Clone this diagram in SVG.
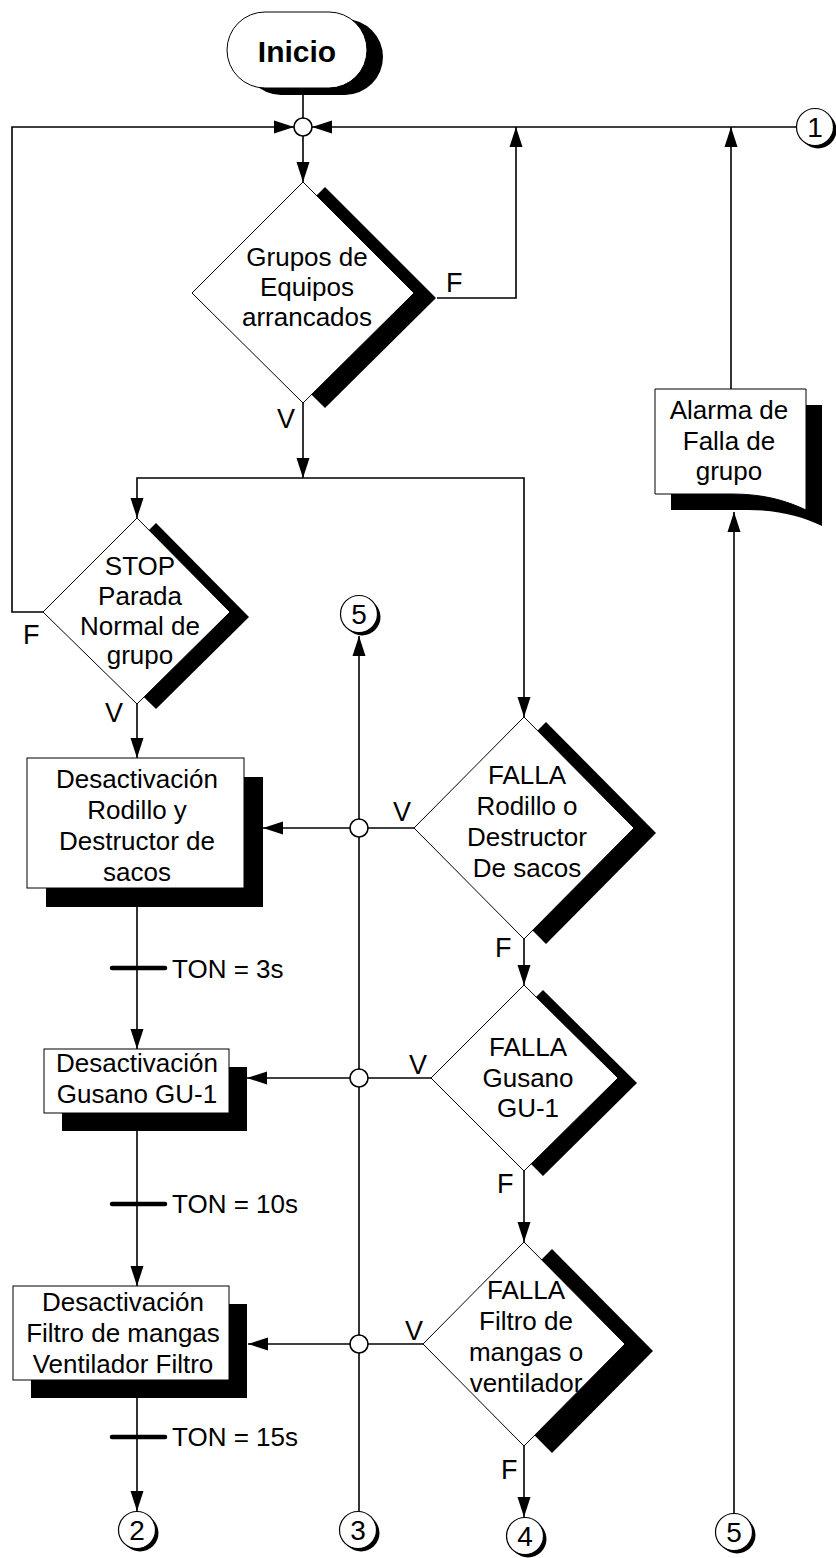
<svg xmlns="http://www.w3.org/2000/svg" width="836" height="1558" viewBox="0 0 836 1558">
  <style>
    .bg { fill: #ffffff; }
    .shape { fill: #ffffff; stroke: #000000; stroke-width: 1; }
    .shadow { fill: #000000; stroke: none; }
    .wire { fill: none; stroke: #000000; stroke-width: 1.6; }
    .timer { stroke: #000000; stroke-width: 4.5; stroke-linecap: round; }
    .junction { fill: #ffffff; stroke: #000000; stroke-width: 1.6; }
    .conn { fill: #ffffff; stroke: #000000; stroke-width: 1.2; }
    text { font-family: "Liberation Sans", Arial, sans-serif; font-size: 26px; fill: #000000; }
    .mid { text-anchor: middle; }
    .lbl { font-size: 27px; }
    .num { font-size: 28px; }
    .title { font-size: 30px; font-weight: bold; }
  </style>
  <defs>
    <marker id="arrow" markerUnits="userSpaceOnUse" markerWidth="20" markerHeight="14" refX="20" refY="7" orient="auto">
      <path d="M0,0.5 L20,7 L0,13.5 Z" fill="#000000"/>
    </marker>
  </defs>

  <rect class="bg" x="0" y="0" width="836" height="1558"/>

  <!-- connectors -->
  <g id="connectors">
    <path class="wire" d="M303,95 V118"/>
    <path class="wire" d="M303,136 V182" marker-end="url(#arrow)"/>
    <path class="wire" d="M43,612 H12 V127 H294" marker-end="url(#arrow)"/>
    <path class="wire" d="M796,127 H312" marker-end="url(#arrow)"/>
    <path class="wire" d="M437,298 H516 V127" marker-end="url(#arrow)"/>
    <path class="wire" d="M731,389 V127" marker-end="url(#arrow)"/>
    <path class="wire" d="M734,1513 V512" marker-end="url(#arrow)"/>
    <path class="wire" d="M303,403 V478" marker-end="url(#arrow)"/>
    <path class="wire" d="M303,478 H137 V518" marker-end="url(#arrow)"/>
    <path class="wire" d="M303,478 H524 V717" marker-end="url(#arrow)"/>
    <path class="wire" d="M137,704 V758" marker-end="url(#arrow)"/>
    <path class="wire" d="M137,907 V1049" marker-end="url(#arrow)"/>
    <path class="wire" d="M137,1131 V1286" marker-end="url(#arrow)"/>
    <path class="wire" d="M137,1398 V1511" marker-end="url(#arrow)"/>
    <path class="wire" d="M524,939 V985" marker-end="url(#arrow)"/>
    <path class="wire" d="M524,1171 V1242" marker-end="url(#arrow)"/>
    <path class="wire" d="M524,1446 V1517" marker-end="url(#arrow)"/>
    <path class="wire" d="M414,828 H263" marker-end="url(#arrow)"/>
    <path class="wire" d="M431,1078 H247" marker-end="url(#arrow)"/>
    <path class="wire" d="M423,1344 H248" marker-end="url(#arrow)"/>
    <path class="wire" d="M359,1511 V636" marker-end="url(#arrow)"/>

    <!-- crossing points -->
    <circle class="junction" cx="303" cy="127" r="9"/>
    <circle class="junction" cx="359" cy="828" r="9"/>
    <circle class="junction" cx="359" cy="1078" r="9"/>
    <circle class="junction" cx="359" cy="1344" r="9"/>

    <!-- timers -->
    <line class="timer" x1="112" y1="968" x2="165" y2="968"/>
    <text x="172" y="978">TON = 3s</text>
    <line class="timer" x1="112" y1="1204" x2="165" y2="1204"/>
    <text x="172" y="1213">TON = 10s</text>
    <line class="timer" x1="112" y1="1437" x2="165" y2="1437"/>
    <text x="172" y="1446">TON = 15s</text>

    <!-- branch labels -->
    <text class="lbl" x="446" y="292">F</text>
    <text class="lbl" x="277" y="428">V</text>
    <text class="lbl" x="23" y="644">F</text>
    <text class="lbl" x="105" y="722">V</text>
    <text class="lbl" x="393" y="821">V</text>
    <text class="lbl" x="495" y="957">F</text>
    <text class="lbl" x="409" y="1074">V</text>
    <text class="lbl" x="497" y="1193">F</text>
    <text class="lbl" x="405" y="1340">V</text>
    <text class="lbl" x="501" y="1479">F</text>
  </g>

  <!-- start terminator -->
  <g id="inicio">
    <rect class="shadow" x="243" y="19" width="140" height="76" rx="38"/>
    <rect class="shape" x="227" y="12" width="140" height="76" rx="38"/>
    <text class="title mid" x="297" y="62">Inicio</text>
  </g>

  <!-- decision: groups started -->
  <g id="grupos-arrancados">
    <polygon class="shadow" points="325,187 436,298 325,408 214,298"/>
    <polygon class="shape" points="303,182 414,293 303,403 192,293"/>
    <text class="mid" x="307" y="266">Grupos de</text>
    <text class="mid" x="307" y="296">Equipos</text>
    <text class="mid" x="307" y="326">arrancados</text>
  </g>

  <!-- decision: normal stop -->
  <g id="stop">
    <polygon class="shadow" points="156,523 249,617 156,709 62,617"/>
    <polygon class="shape" points="137,518 230,612 137,704 43,612"/>
    <text class="mid" x="140" y="575">STOP</text>
    <text class="mid" x="140" y="605">Parada</text>
    <text class="mid" x="140" y="635">Normal de</text>
    <text class="mid" x="140" y="664">grupo</text>
  </g>

  <!-- process: roller and bag breaker -->
  <g id="desact-rodillo">
    <rect class="shadow" x="46" y="777" width="217" height="130"/>
    <rect class="shape" x="27" y="758" width="217" height="130"/>
    <text class="mid" x="137" y="788">Desactivación</text>
    <text class="mid" x="137" y="819">Rodillo y</text>
    <text class="mid" x="137" y="850">Destructor de</text>
    <text class="mid" x="137" y="881">sacos</text>
  </g>

  <!-- process: screw conveyor -->
  <g id="desact-gusano">
    <rect class="shadow" x="62" y="1067" width="185" height="64"/>
    <rect class="shape" x="44" y="1049" width="185" height="64"/>
    <text class="mid" x="137" y="1072">Desactivación</text>
    <text class="mid" x="137" y="1103">Gusano GU-1</text>
  </g>

  <!-- process: bag filter and fan -->
  <g id="desact-filtro">
    <rect class="shadow" x="31" y="1304" width="216" height="94"/>
    <rect class="shape" x="13" y="1286" width="216" height="94"/>
    <text class="mid" x="123" y="1311">Desactivación</text>
    <text class="mid" x="123" y="1342">Filtro de mangas</text>
    <text class="mid" x="123" y="1373">Ventilador Filtro</text>
  </g>

  <!-- decision: roller / bag breaker fault -->
  <g id="falla-rodillo">
    <polygon class="shadow" points="546,722 656,833 546,944 436,833"/>
    <polygon class="shape" points="524,717 634,828 524,939 414,828"/>
    <text class="mid" x="527" y="784">FALLA</text>
    <text class="mid" x="527" y="815">Rodillo o</text>
    <text class="mid" x="527" y="846">Destructor</text>
    <text class="mid" x="527" y="877">De sacos</text>
  </g>

  <!-- decision: screw conveyor fault -->
  <g id="falla-gusano">
    <polygon class="shadow" points="543,990 637,1083 543,1176 450,1083"/>
    <polygon class="shape" points="524,985 618,1078 524,1171 431,1078"/>
    <text class="mid" x="528" y="1056">FALLA</text>
    <text class="mid" x="528" y="1087">Gusano</text>
    <text class="mid" x="528" y="1117">GU-1</text>
  </g>

  <!-- decision: bag filter / fan fault -->
  <g id="falla-filtro">
    <polygon class="shadow" points="552,1249 653,1351 552,1453 451,1351"/>
    <polygon class="shape" points="524,1242 625,1344 524,1446 423,1344"/>
    <text class="mid" x="526" y="1299">FALLA</text>
    <text class="mid" x="526" y="1330">Filtro de</text>
    <text class="mid" x="526" y="1361">mangas o</text>
    <text class="mid" x="526" y="1392">ventilador</text>
  </g>

  <!-- document: group fault alarm -->
  <g id="alarma">
    <path class="shadow" transform="translate(16,16)" d="M655,389 H806 V510 C785,500 762,494 732,494 H655 Z"/>
    <path class="shape" d="M655,389 H806 V510 C785,500 762,494 732,494 H655 Z"/>
    <text class="mid" x="729" y="419">Alarma de</text>
    <text class="mid" x="729" y="450">Falla de</text>
    <text class="mid" x="729" y="480">grupo</text>
  </g>

  <!-- off-page connectors -->
  <g id="conector-1">
    <circle class="shadow" cx="818" cy="130" r="18.5"/>
    <circle class="conn" cx="815" cy="127" r="18.5"/>
    <text class="mid num" x="815" y="137">1</text>
  </g>
  <g id="conector-5-arriba">
    <circle class="shadow" cx="362" cy="617" r="18.5"/>
    <circle class="conn" cx="359" cy="614" r="18.5"/>
    <text class="mid num" x="359" y="624">5</text>
  </g>
  <g id="conector-2">
    <circle class="shadow" cx="140" cy="1533" r="18.5"/>
    <circle class="conn" cx="137" cy="1530" r="18.5"/>
    <text class="mid num" x="137" y="1540">2</text>
  </g>
  <g id="conector-3">
    <circle class="shadow" cx="361" cy="1533" r="18.5"/>
    <circle class="conn" cx="358" cy="1530" r="18.5"/>
    <text class="mid num" x="358" y="1540">3</text>
  </g>
  <g id="conector-4">
    <circle class="shadow" cx="528" cy="1539" r="18.5"/>
    <circle class="conn" cx="525" cy="1536" r="18.5"/>
    <text class="mid num" x="525" y="1546">4</text>
  </g>
  <g id="conector-5-abajo">
    <circle class="shadow" cx="737" cy="1535" r="18.5"/>
    <circle class="conn" cx="734" cy="1532" r="18.5"/>
    <text class="mid num" x="734" y="1542">5</text>
  </g>
</svg>
